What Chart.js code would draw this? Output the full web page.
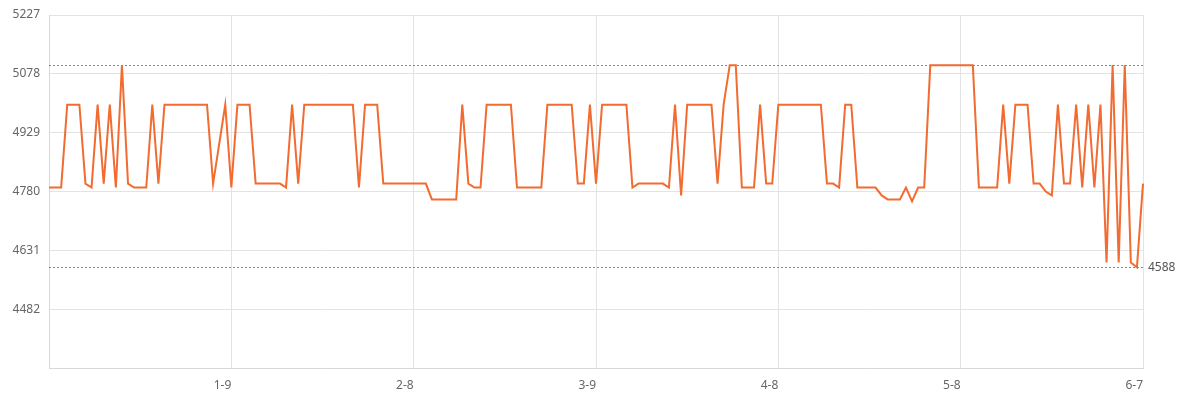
<!DOCTYPE html>
<html>
<head>
<meta charset="utf-8">
<script src="https://cdn.jsdelivr.net/npm/chart.js@4/dist/chart.umd.min.js"></script>
<style>
  body { margin: 0; background: #fff; }
  #wrap { width: 1183px; height: 411px; position: relative; }
</style>
</head>
<body>
<div id="wrap"><canvas id="chart"></canvas></div>
<script>
// daily points, 2023-12-10 .. 2024-06-07
const startDate = new Date(2023, 11, 10);
const dayCount = 181;
const labelEvery = 30;

const prices = [
  4790, 4790, 4790, 5000, 5000, 5000, 4800, 4790, 5000, 4800,
  5000, 4790, 5100, 4800, 4790, 4790, 4790, 5000, 4800, 5000,
  5000, 5000, 5000, 5000, 5000, 5000, 5000, 4800, 4900, 5000,
  4790, 5000, 5000, 5000, 4800, 4800, 4800, 4800, 4800, 4790,
  5000, 4800, 5000, 5000, 5000, 5000, 5000, 5000, 5000, 5000,
  5000, 4790, 5000, 5000, 5000, 4800, 4800, 4800, 4800, 4800,
  4800, 4800, 4800, 4760, 4760, 4760, 4760, 4760, 5000, 4800,
  4790, 4790, 5000, 5000, 5000, 5000, 5000, 4790, 4790, 4790,
  4790, 4790, 5000, 5000, 5000, 5000, 5000, 4800, 4800, 5000,
  4800, 5000, 5000, 5000, 5000, 5000, 4790, 4800, 4800, 4800,
  4800, 4800, 4790, 5000, 4770, 5000, 5000, 5000, 5000, 5000,
  4800, 5000, 5100, 5100, 4790, 4790, 4790, 5000, 4800, 4800,
  5000, 5000, 5000, 5000, 5000, 5000, 5000, 5000, 4800, 4800,
  4790, 5000, 5000, 4790, 4790, 4790, 4790, 4770, 4760, 4760,
  4760, 4790, 4755, 4790, 4790, 5100, 5100, 5100, 5100, 5100,
  5100, 5100, 5100, 4790, 4790, 4790, 4790, 5000, 4800, 5000,
  5000, 5000, 4800, 4800, 4780, 4770, 5000, 4800, 4800, 5000,
  4790, 5000, 4790, 5000, 4600, 5100, 4600, 5100, 4600, 4588,
  4800
];

const yMin = 4333;
const yMax = 5227;
const yStep = 149;

const labels = [];
for (let i = 0; i < dayCount; i++) {
  const d = new Date(startDate);
  d.setDate(d.getDate() + i);
  labels.push((d.getMonth() + 1) + '-' + d.getDate());
}

const maxPrice = Math.max(...prices);
const minPrice = Math.min(...prices);

// dotted max/min lines plus the min label on the right
const extremesPlugin = {
  id: 'extremes',
  beforeDatasetsDraw(chart) {
    const { ctx, chartArea, scales } = chart;
    ctx.save();
    ctx.strokeStyle = '#888';
    ctx.lineWidth = 1;
    ctx.setLineDash([2, 2]);
    [maxPrice, minPrice].forEach(v => {
      const y = Math.round(scales.y.getPixelForValue(v)) + 0.5;
      ctx.beginPath();
      ctx.moveTo(chartArea.left, y);
      ctx.lineTo(chartArea.right, y);
      ctx.stroke();
    });
    ctx.setLineDash([]);
    ctx.fillStyle = '#555';
    ctx.font = '12px "Noto Sans"';
    ctx.textBaseline = 'middle';
    ctx.textAlign = 'left';
    ctx.fillText(String(minPrice), chartArea.right + 5, scales.y.getPixelForValue(minPrice));
    ctx.restore();
  }
};

const canvas = document.getElementById('chart');

const data = {
  labels: labels,
  datasets: [
    {
      data: prices,
      borderColor: '#f26b30',
      borderWidth: 2,
      pointRadius: 0,
      tension: 0,
      fill: false,
    },
  ],
};

const config = {
  type: 'line',
  data,
  plugins: [extremesPlugin],
  options: {
    responsive: true,
    maintainAspectRatio: false,
    animation: false,
    layout: { padding: { top: 14, right: 40, bottom: 0, left: 0 } },
    plugins: {
      legend: { display: false },
      tooltip: { enabled: false },
    },
    scales: {
      x: {
        grid: { color: '#e3e3e3', drawTicks: false },
        border: { color: '#d8d8d8' },
        afterFit(scale) { scale.height = 43; },
        ticks: {
          autoSkip: false,
          maxRotation: 0,
          align: 'end',
          padding: 10,
          color: '#666',
          font: { family: 'Noto Sans', size: 12 },
          callback: (val, idx) => (idx > 0 && idx % labelEvery === 0 ? labels[idx] : null),
        },
      },
      y: {
        min: yMin,
        max: yMax,
        grid: { color: '#e3e3e3', drawTicks: false },
        border: { color: '#d8d8d8' },
        afterFit(scale) { scale.width = 49; },
        ticks: {
          stepSize: yStep,
          padding: 9,
          color: '#666',
          font: { family: 'Noto Sans', size: 12, lineHeight: 1 },
          callback: v => (v === yMin ? '' : v),
        },
      },
    },
  },
};

new Chart(canvas, config);
</script>
</body>
</html>
